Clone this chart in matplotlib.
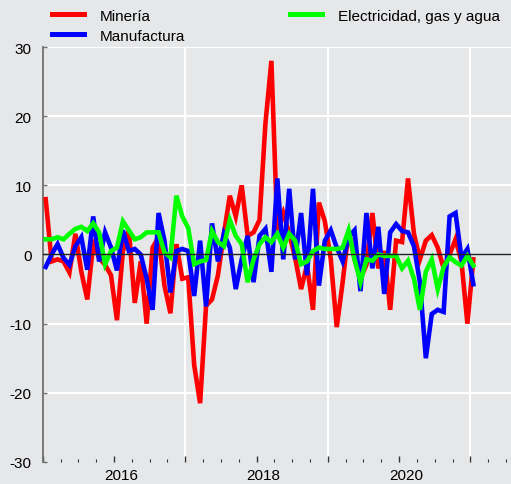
import matplotlib
matplotlib.use('Agg')
import matplotlib.pyplot as plt
from matplotlib.lines import Line2D
from matplotlib.transforms import ScaledTranslation
import numpy as np
import pandas as pd

# monthly variation, Jan 2015 - Jan 2021
months = pd.date_range('2015-01-01', '2021-01-01', freq='MS')

mineria = [8, -1, -0.7, -1, -2.6, 3, -2.5, -6.5, 1.5, -0.5,
           -1.5, -3, -9.5, 0.5, 3.5, -7, -1, -10, 1, 2.5,
           -4.5, -8.5, 1.5, -3.5, -3.3, -16, -21.5, -7.4, -6.5, -3,
           3, 8.5, 5.5, 10, 2.7, 3.2, 5, 19, 28, 3.5,
           6, 3, -0.5, -5, -1.5, -8, 7.5, 4.8, -0.7, -10.5,
           -4, 3.5, -0.7, -3.5, -1.5, 6, -2, 0.5, -8, 2,
           1.8, 11, 3, -0.7, 2, 2.8, 1, -2, 0, 2.2,
           -1, -10, -0.7]
manufactura = [-1.8, 0, 1.5, -0.5, -1.5, 1.2, 2.5, -2.2, 5.5, -1,
               3.2, 1, -2.3, 3.5, 0.5, 0.8, 0, -3.5, -8, 6,
               2, -5.5, 0.5, 0.8, 0.5, -6, 2, -7.5, 4.5, -1,
               3, 1, -5, -0.7, 2.7, -4, 2.7, 3.7, -2.5, 11,
               -0.7, 9.5, -0.7, 6, -3, 9.5, -4.5, 2, 3.5, 1,
               -1, 2.5, 3.5, -5.3, 6, -2, 4, -5.7, 3.2, 4.4,
               3.4, 3.2, 1.2, -4, -15, -8.6, -8, -8.3, 5.5, 6,
               -0.5, 0.8, -4.3]
electricidad = [2.2, 2.2, 2.5, 2.2, 3, 3.7, 4, 3.4, 4.5, 3.2,
                -1.4, 0.5, 1, 4.8, 3.5, 2.2, 2.5, 3.2, 3.2, 3.2,
                0.3, -0.4, 8.5, 5.5, 3.8, -1.4, -1, -0.8, 3.4, 1.8,
                1.2, 5, 2.7, 1.5, -4, -0.7, 1.5, 2.5, 1.8, 3,
                1, 3, 2, -1.4, -1, 0.5, 1, 0.8, 0.8, 0.8,
                1, 3.5, -0.7, -4, -0.7, -0.9, 0, -0.2, -0.2, -0.2,
                -2, -0.9, -3.5, -8, -2.5, -0.7, -5, -1.8, -0.4, -1.1,
                -1.6, -0.2, -1.6]

labels = ['Minería', 'Manufactura', 'Electricidad, gas y agua']
colors = ['#ff0000', '#0000ff', '#00ff00']

bg = '#e6e7e9'
plt.rcParams['font.family'] = ['Liberation Sans', 'DejaVu Sans']
plt.rcParams['font.size'] = 11
plt.rcParams['axes.unicode_minus'] = False

x = months.year + (months.month - 0.5) / 12.0

fig = plt.figure(figsize=(5.11, 4.85), dpi=100, facecolor=bg)
ax = fig.add_axes([0.0836, 0.0454, 0.9164, 0.8556])
ax.set_facecolor(bg)

for yv in [-20, -10, 10, 20, 30]:
    ax.axhline(yv, color='white', lw=1.5, zorder=1)
for xv in [2017, 2019, 2021]:
    ax.axvline(xv, color='white', lw=1.5, zorder=1)

for series, lab, col in zip([mineria, manufactura, electricidad], labels, colors):
    ax.plot(x, series, color=col, lw=3.3, label=lab, zorder=3, solid_joinstyle='miter')
ax.axhline(0, color='#222222', lw=1, zorder=5)

ax.set_xlim(2015.0, 2021.57)
ax.set_ylim(-30, 30)
ax.set_yticks(range(-30, 31, 10))
ax.set_xticks(range(2015, 2022))
ax.set_xticklabels(['', '2016', '', '2018', '', '2020', ''])
ax.set_xticks(np.arange(2015, 2021.6, 0.25), minor=True)

for s in ['top', 'right', 'bottom']:
    ax.spines[s].set_visible(False)
ax.spines['left'].set_color('#707070')
ax.spines['left'].set_linewidth(1.3)

ax.tick_params(axis='y', direction='in', length=3, width=1, color='#707070', pad=8, labelsize=11)
ax.tick_params(axis='x', which='major', direction='in', length=4.5, width=1, color='#333333', pad=4, labelsize=11)
ax.tick_params(axis='x', which='minor', direction='in', length=2.2, width=0.8, color='#333333')

off = ScaledTranslation(7 / 100, 0, fig.dpi_scale_trans)
for lbl in ax.get_xticklabels():
    lbl.set_transform(lbl.get_transform() + off)

handles = [Line2D([], [], color=c, lw=3.6) for c in colors]
fig.legend(handles, labels, loc='upper left', bbox_to_anchor=(0.102, 0.98),
           ncol=2, frameon=False, fontsize=11, handlelength=2.1, handletextpad=1.0,
           columnspacing=6.9, labelspacing=0.38, borderpad=0, borderaxespad=0)

fig.savefig('out.png', dpi=100, facecolor=bg)
